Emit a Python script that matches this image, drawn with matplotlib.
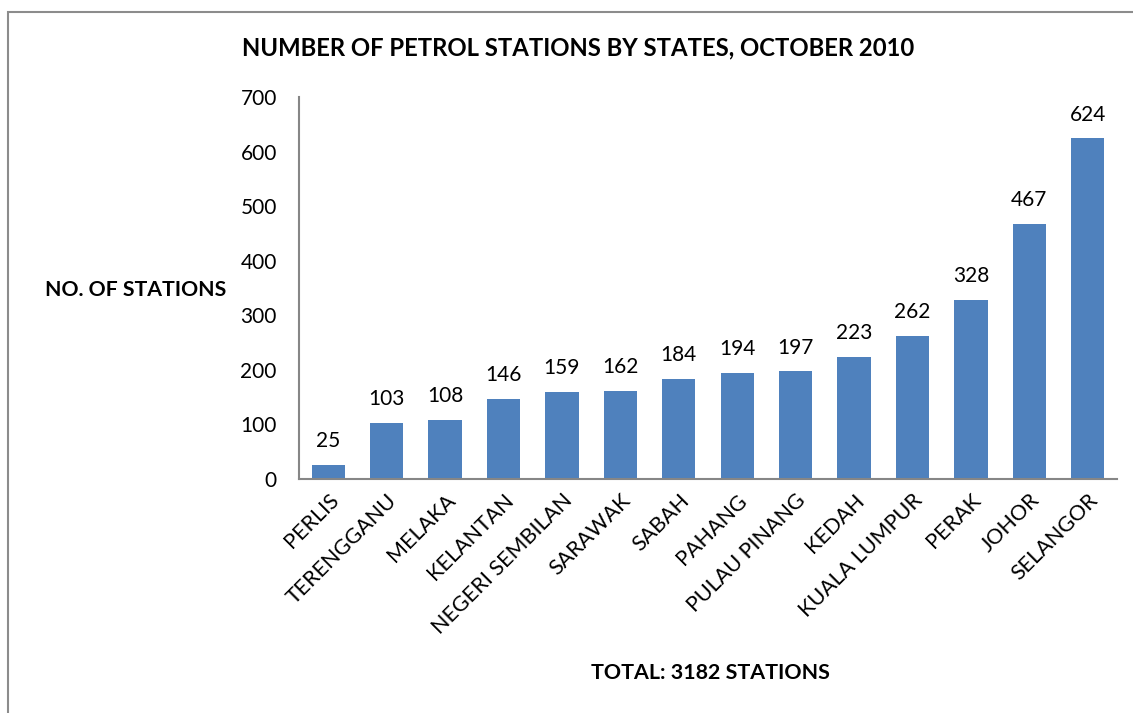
import matplotlib.pyplot as plt
from matplotlib.patches import Rectangle

plt.rcParams['font.family'] = ['Lato', 'DejaVu Sans']

states = ['PERLIS', 'TERENGGANU', 'MELAKA', 'KELANTAN', 'NEGERI SEMBILAN',
          'SARAWAK', 'SABAH', 'PAHANG', 'PULAU PINANG', 'KEDAH',
          'KUALA LUMPUR', 'PERAK', 'JOHOR', 'SELANGOR']
stations = [25, 103, 108, 146, 159, 162, 184, 194, 197, 223, 262, 328, 467, 624]
yticks = [0, 100, 200, 300, 400, 500, 600, 700]

W, H = 1133, 713
fig = plt.figure(figsize=(W / 100, H / 100), dpi=100)

# outer chart frame (runs off the right and bottom edges)
fig.patches.append(Rectangle((8 / W, -0.1), 1.2, (H - 12) / H + 0.1,
                             transform=fig.transFigure, fill=False,
                             edgecolor='#8c8c8c', linewidth=1.5))

ax = fig.add_axes([299 / W, 1 - 479 / H, (1117 - 299) / W, (479 - 97) / H])

x = range(len(states))
bars = ax.bar(x, stations, width=0.57, color='#4F81BD')

for b, v in zip(bars, stations):
    ax.annotate(str(v), (b.get_x() + b.get_width() / 2, v),
                xytext=(0, 10), textcoords='offset points',
                ha='center', va='bottom', fontsize=15)

ax.set_xlim(-0.5, len(states) - 0.5)
ax.set_ylim(0, 700)
ax.set_yticks(yticks)
ax.set_yticklabels([str(t) for t in yticks], fontsize=15)
ax.set_xticks(list(x))
ax.set_xticklabels(states, rotation=45, ha='right', rotation_mode='anchor',
                   fontsize=15.5)
ax.tick_params(axis='y', length=0, pad=16)
ax.tick_params(axis='x', length=0, pad=8)

for side in ['top', 'right']:
    ax.spines[side].set_visible(False)
for side in ['left', 'bottom']:
    ax.spines[side].set_color('#868686')
    ax.spines[side].set_linewidth(1.5)

fig.text(578 / W, 1 - 48 / H, 'NUMBER OF PETROL STATIONS BY STATES, OCTOBER 2010',
         ha='center', va='center', fontsize=17.2, fontweight='bold')
fig.text(45 / W, 1 - 290 / H, 'NO. OF STATIONS',
         ha='left', va='center', fontsize=15.3, fontweight='bold')
fig.text(710 / W, 1 - 673 / H, 'TOTAL: 3182 STATIONS',
         ha='center', va='center', fontsize=15.4, fontweight='bold')

fig.savefig('out.png', dpi=100)
